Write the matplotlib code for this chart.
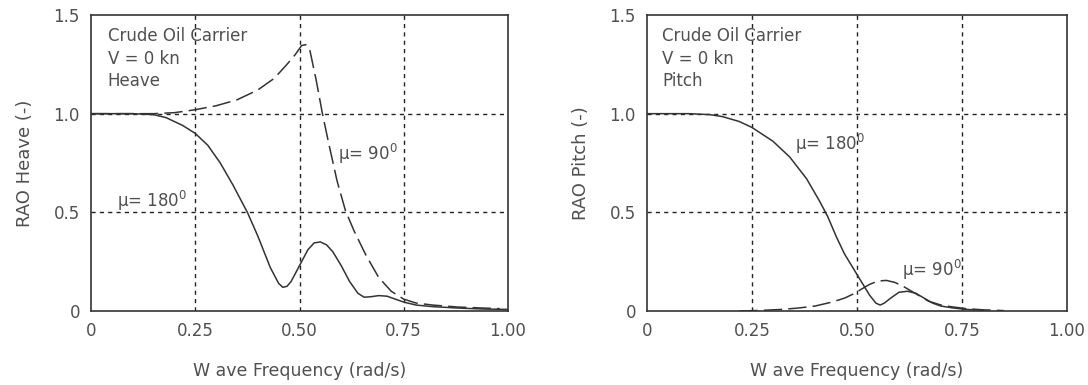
import matplotlib
matplotlib.use("Agg")
import matplotlib.pyplot as plt
import numpy as np

plt.rcParams['font.family'] = ['DejaVu Sans']

# Heave, mu = 180 (solid)
heave180_x = [0, 0.05, 0.10, 0.15, 0.18, 0.22, 0.25, 0.28, 0.31, 0.34, 0.375, 0.40, 0.43, 0.45, 0.46, 0.47, 0.48, 0.50, 0.52, 0.535, 0.55, 0.565, 0.58, 0.60, 0.62, 0.64, 0.655, 0.67, 0.69, 0.71, 0.73, 0.75, 0.78, 0.82, 0.88, 0.94, 1.0]
heave180_y = [1.0, 1.0, 1.0, 0.995, 0.98, 0.94, 0.90, 0.84, 0.75, 0.64, 0.50, 0.38, 0.22, 0.14, 0.12, 0.125, 0.15, 0.23, 0.31, 0.345, 0.35, 0.335, 0.30, 0.23, 0.15, 0.09, 0.07, 0.072, 0.078, 0.075, 0.06, 0.045, 0.03, 0.022, 0.015, 0.01, 0.008]
# Heave, mu = 90 (dashed)
heave90_x = [0, 0.05, 0.10, 0.15, 0.20, 0.25, 0.30, 0.35, 0.40, 0.44, 0.47, 0.49, 0.505, 0.515, 0.525, 0.54, 0.555, 0.57, 0.59, 0.61, 0.63, 0.66, 0.69, 0.72, 0.75, 0.78, 0.82, 0.88, 0.94, 0.98]
heave90_y = [1.0, 1.0, 1.0, 1.0, 1.005, 1.02, 1.04, 1.07, 1.12, 1.18, 1.25, 1.30, 1.345, 1.35, 1.32, 1.17, 1.00, 0.85, 0.66, 0.51, 0.41, 0.28, 0.17, 0.10, 0.06, 0.04, 0.03, 0.02, 0.015, 0.012]

# Pitch, mu = 180 (solid)
pitch180_x = [0, 0.05, 0.10, 0.15, 0.18, 0.22, 0.25, 0.30, 0.34, 0.38, 0.41, 0.43, 0.45, 0.47, 0.49, 0.51, 0.53, 0.545, 0.555, 0.565, 0.58, 0.60, 0.62, 0.64, 0.66, 0.68, 0.70, 0.73, 0.76, 0.80]
pitch180_y = [1.0, 1.0, 1.0, 0.995, 0.985, 0.96, 0.93, 0.86, 0.78, 0.67, 0.56, 0.48, 0.38, 0.29, 0.22, 0.15, 0.08, 0.04, 0.03, 0.04, 0.065, 0.095, 0.10, 0.09, 0.065, 0.04, 0.025, 0.015, 0.008, 0.004]
# Pitch, mu = 90 (dashed)
pitch90_x = [0.22, 0.27, 0.32, 0.36, 0.40, 0.44, 0.47, 0.49, 0.51, 0.53, 0.55, 0.57, 0.59, 0.61, 0.63, 0.65, 0.67, 0.70, 0.73, 0.76, 0.80, 0.85]
pitch90_y = [0.0, 0.003, 0.008, 0.015, 0.025, 0.045, 0.065, 0.085, 0.11, 0.135, 0.152, 0.155, 0.145, 0.125, 0.10, 0.075, 0.05, 0.03, 0.02, 0.012, 0.006, 0.002]

xticks = [0, 0.25, 0.5, 0.75, 1.0]
xtick_labels = ["0", "0.25", "0.50", "0.75", "1.00"]
yticks = [0, 0.5, 1.0, 1.5]
ytick_labels = ["0", "0.5", "1.0", "1.5"]

fig = plt.figure(figsize=(10.88, 3.85), dpi=100)
ax1 = fig.add_axes([91/1088, 74/385, 417/1088, 296/385])
ax2 = fig.add_axes([647/1088, 74/385, 420/1088, 296/385])

txtc = '#505050'
fs = 12

def style(ax, ylabel):
    ax.set_xlim(0, 1.0)
    ax.set_ylim(0, 1.5)
    ax.set_xticks(xticks)
    ax.set_xticklabels(xtick_labels)
    ax.set_yticks(yticks)
    ax.set_yticklabels(ytick_labels)
    ax.tick_params(length=0, labelsize=12, colors=txtc)
    ax.tick_params(axis='x', pad=8)
    ax.tick_params(axis='y', pad=8)
    for s in ax.spines.values():
        s.set_color('#333333')
        s.set_linewidth(1.2)
    for xv in [0.25, 0.5, 0.75]:
        ax.axvline(xv, color='#222222', lw=1.0, ls=(0, (3, 3)), zorder=1)
    for yv in [0.5, 1.0]:
        ax.axhline(yv, color='#222222', lw=1.0, ls=(0, (3, 3)), zorder=1)
    ax.set_xlabel("W ave Frequency (rad/s)", fontsize=12.5, color=txtc, labelpad=16)
    ax.set_ylabel(ylabel, fontsize=13, color=txtc, labelpad=14)

style(ax1, "RAO Heave (-)")
style(ax2, "RAO Pitch (-)")

ax1.plot(heave180_x, heave180_y, color='#333333', lw=1.1, zorder=3)
ax1.plot(heave90_x, heave90_y, color='#333333', lw=1.1, ls=(0, (12, 4)), zorder=3)
ax2.plot(pitch180_x, pitch180_y, color='#333333', lw=1.1, zorder=3)
ax2.plot(pitch90_x, pitch90_y, color='#333333', lw=1.1, ls=(0, (12, 4)), zorder=3)

ax1.text(0.04, 1.44, "Crude Oil Carrier\nV = 0 kn\nHeave", fontsize=fs, color=txtc,
         va='top', ha='left', linespacing=1.34)
ax2.text(0.036, 1.44, "Crude Oil Carrier\nV = 0 kn\nPitch", fontsize=fs, color=txtc,
         va='top', ha='left', linespacing=1.34)

ax1.text(0.592, 0.765, r"$\mathregular{\mu}$= 90$^\mathregular{0}$", fontsize=fs, color=txtc, va='baseline')
ax1.text(0.062, 0.527, r"$\mathregular{\mu}$= 180$^\mathregular{0}$", fontsize=fs, color=txtc, va='baseline')
ax2.text(0.352, 0.816, r"$\mathregular{\mu}$= 180$^\mathregular{0}$", fontsize=fs, color=txtc, va='baseline')
ax2.text(0.607, 0.177, r"$\mathregular{\mu}$= 90$^\mathregular{0}$", fontsize=fs, color=txtc, va='baseline')

fig.savefig("out.png", dpi=100)
